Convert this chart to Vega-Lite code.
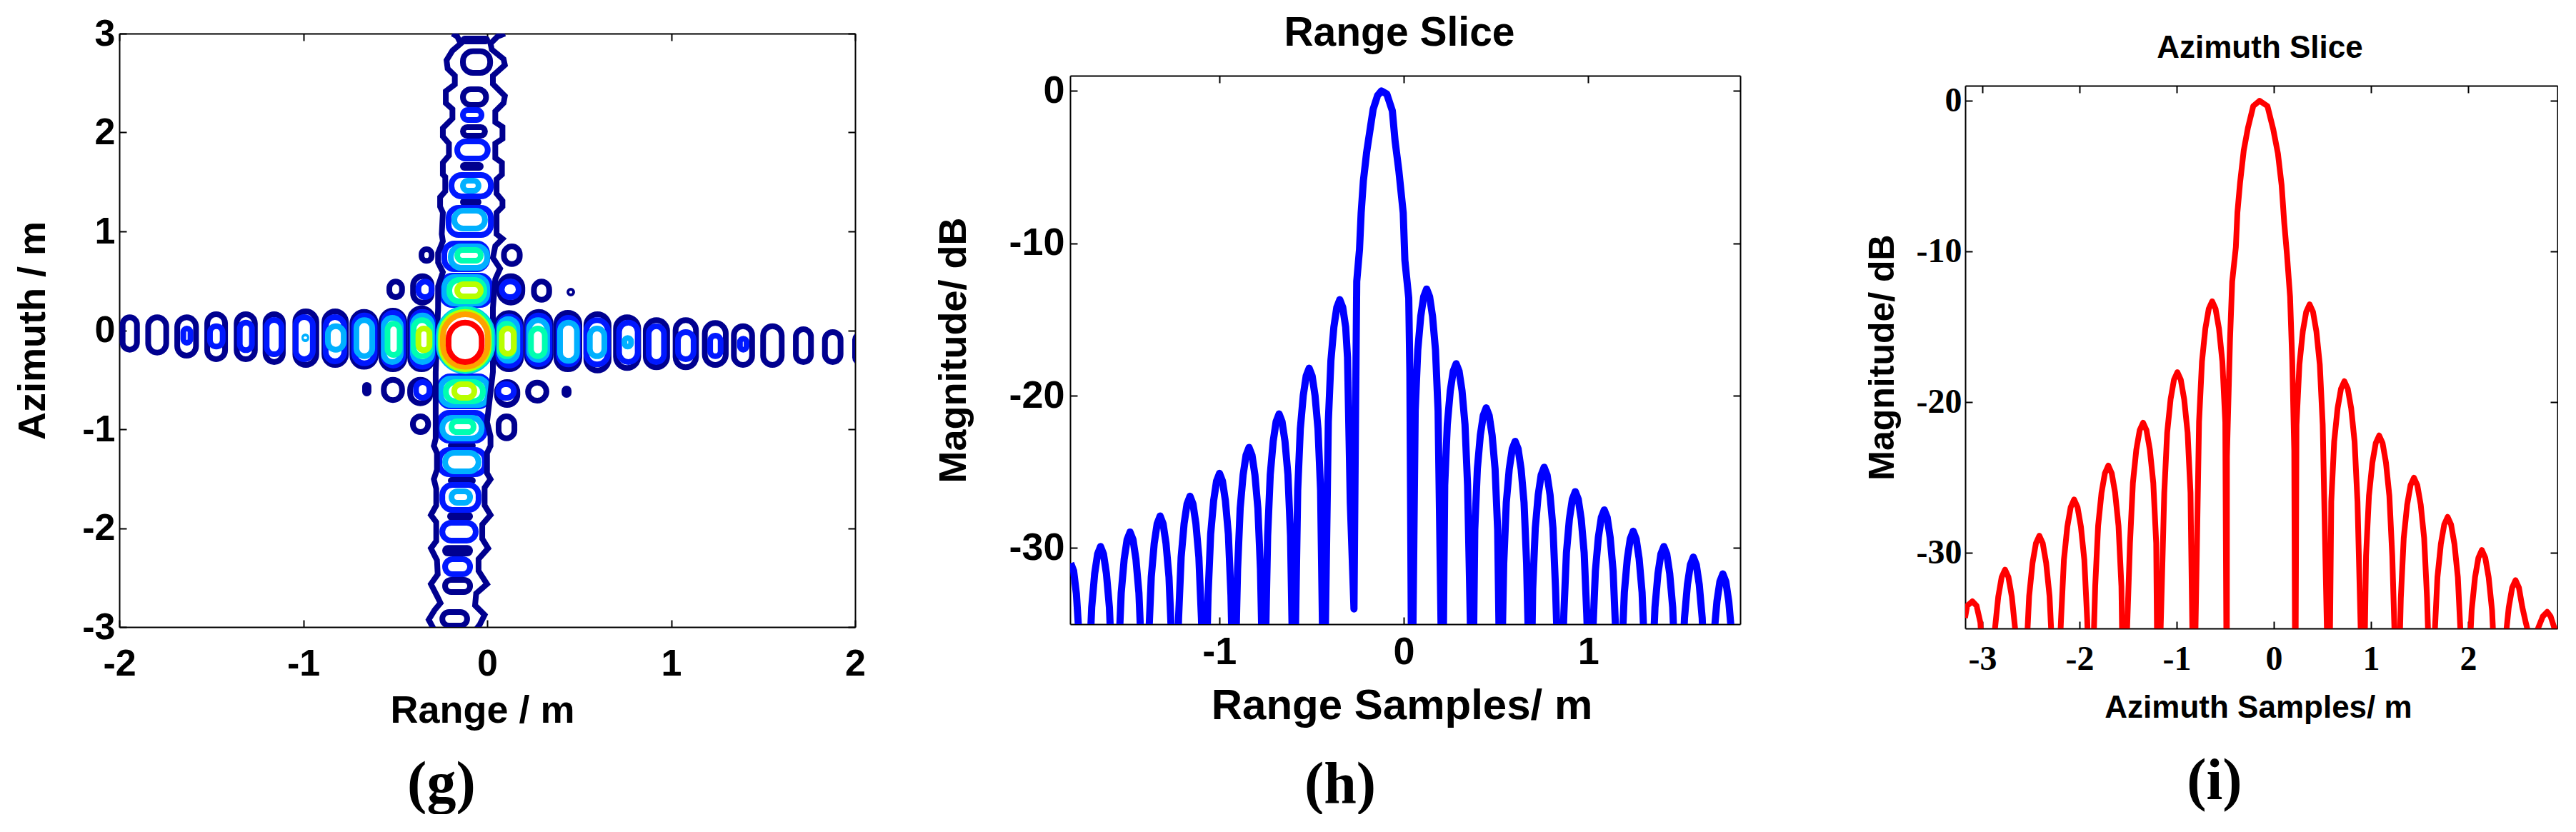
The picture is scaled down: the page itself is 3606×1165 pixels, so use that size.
{"$schema":"https://vega.github.io/schema/vega-lite/v6.json","background":"white","padding":{"left":19,"top":18,"right":0,"bottom":0},"config":{"font":"Liberation Sans","view":{"stroke":null},"axis":{"grid":false,"domainColor":"black","domainWidth":2,"tickColor":"black","tickWidth":2,"tickSize":-10,"labelColor":"black","titleColor":"black","labelFontWeight":"bold","titleFontWeight":"bold","labelOverlap":false,"labelFlush":false,"labelBound":false,"zindex":1}},"datasets":{"rangeSlice":[{"x":-1.806,"y":-31},{"x":-1.79,"y":-31.5},{"x":-1.775,"y":-33},{"x":-1.762,"y":-35.5},{"x":-1.724,"y":-42},{"x":-1.706,"y":-37.9},{"x":-1.692,"y":-33.9},{"x":-1.676,"y":-31.7},{"x":-1.66,"y":-30.4},{"x":-1.644,"y":-29.9},{"x":-1.628,"y":-30.4},{"x":-1.612,"y":-31.7},{"x":-1.596,"y":-33.9},{"x":-1.582,"y":-37.9},{"x":-1.564,"y":-42},{"x":-1.546,"y":-36.95},{"x":-1.532,"y":-32.95},{"x":-1.516,"y":-30.75},{"x":-1.5,"y":-29.45},{"x":-1.484,"y":-28.95},{"x":-1.468,"y":-29.45},{"x":-1.452,"y":-30.75},{"x":-1.436,"y":-32.95},{"x":-1.422,"y":-36.95},{"x":-1.404,"y":-42},{"x":-1.383,"y":-35.9},{"x":-1.369,"y":-31.9},{"x":-1.353,"y":-29.7},{"x":-1.337,"y":-28.4},{"x":-1.321,"y":-27.9},{"x":-1.305,"y":-28.4},{"x":-1.289,"y":-29.7},{"x":-1.273,"y":-31.9},{"x":-1.259,"y":-35.9},{"x":-1.239,"y":-42},{"x":-1.221,"y":-34.6},{"x":-1.207,"y":-30.6},{"x":-1.191,"y":-28.4},{"x":-1.175,"y":-27.1},{"x":-1.159,"y":-26.6},{"x":-1.143,"y":-27.1},{"x":-1.127,"y":-28.4},{"x":-1.111,"y":-30.6},{"x":-1.097,"y":-34.6},{"x":-1.079,"y":-42},{"x":-1.061,"y":-33.1},{"x":-1.047,"y":-29.1},{"x":-1.031,"y":-26.9},{"x":-1.015,"y":-25.6},{"x":-0.999,"y":-25.1},{"x":-0.983,"y":-25.6},{"x":-0.967,"y":-26.9},{"x":-0.951,"y":-29.1},{"x":-0.937,"y":-33.1},{"x":-0.921,"y":-42},{"x":-0.901,"y":-31.4},{"x":-0.887,"y":-27.4},{"x":-0.871,"y":-25.2},{"x":-0.855,"y":-23.9},{"x":-0.839,"y":-23.4},{"x":-0.823,"y":-23.9},{"x":-0.807,"y":-25.2},{"x":-0.791,"y":-27.4},{"x":-0.777,"y":-31.4},{"x":-0.759,"y":-42},{"x":-0.738,"y":-29.2},{"x":-0.724,"y":-25.2},{"x":-0.708,"y":-23},{"x":-0.692,"y":-21.7},{"x":-0.676,"y":-21.2},{"x":-0.66,"y":-21.7},{"x":-0.644,"y":-23},{"x":-0.628,"y":-25.2},{"x":-0.614,"y":-29.2},{"x":-0.596,"y":-42},{"x":-0.575,"y":-26.2},{"x":-0.561,"y":-22.2},{"x":-0.545,"y":-20},{"x":-0.529,"y":-18.7},{"x":-0.513,"y":-18.2},{"x":-0.497,"y":-18.7},{"x":-0.481,"y":-20},{"x":-0.465,"y":-22.2},{"x":-0.451,"y":-26.2},{"x":-0.433,"y":-42},{"x":-0.409,"y":-21.7},{"x":-0.395,"y":-17.7},{"x":-0.379,"y":-15.5},{"x":-0.363,"y":-14.2},{"x":-0.347,"y":-13.7},{"x":-0.331,"y":-14.2},{"x":-0.315,"y":-15.5},{"x":-0.305,"y":-17.5},{"x":-0.29,"y":-27},{"x":-0.27,"y":-34},{"x":-0.262,"y":-22},{"x":-0.255,"y":-12.5},{"x":-0.24,"y":-10.4},{"x":-0.231,"y":-8},{"x":-0.219,"y":-5.9},{"x":-0.201,"y":-4},{"x":-0.181,"y":-2.4},{"x":-0.166,"y":-1.2},{"x":-0.142,"y":-0.3},{"x":-0.121,"y":0},{"x":-0.092,"y":-0.2},{"x":-0.062,"y":-1.3},{"x":-0.047,"y":-3.3},{"x":-0.027,"y":-5.2},{"x":-0.003,"y":-8},{"x":0.006,"y":-11.1},{"x":0.027,"y":-13.6},{"x":0.033,"y":-18.5},{"x":0.044,"y":-42},{"x":0.062,"y":-21},{"x":0.076,"y":-17},{"x":0.092,"y":-14.8},{"x":0.108,"y":-13.5},{"x":0.124,"y":-13},{"x":0.14,"y":-13.5},{"x":0.156,"y":-14.8},{"x":0.172,"y":-17},{"x":0.186,"y":-21},{"x":0.21,"y":-42},{"x":0.222,"y":-25.9},{"x":0.236,"y":-21.9},{"x":0.252,"y":-19.7},{"x":0.268,"y":-18.4},{"x":0.284,"y":-17.9},{"x":0.3,"y":-18.4},{"x":0.316,"y":-19.7},{"x":0.332,"y":-21.9},{"x":0.346,"y":-25.9},{"x":0.373,"y":-42},{"x":0.385,"y":-28.8},{"x":0.399,"y":-24.8},{"x":0.415,"y":-22.6},{"x":0.431,"y":-21.3},{"x":0.447,"y":-20.8},{"x":0.463,"y":-21.3},{"x":0.479,"y":-22.6},{"x":0.495,"y":-24.8},{"x":0.509,"y":-28.8},{"x":0.524,"y":-42},{"x":0.542,"y":-31},{"x":0.556,"y":-27},{"x":0.572,"y":-24.8},{"x":0.588,"y":-23.5},{"x":0.604,"y":-23},{"x":0.62,"y":-23.5},{"x":0.636,"y":-24.8},{"x":0.652,"y":-27},{"x":0.666,"y":-31},{"x":0.687,"y":-42},{"x":0.699,"y":-32.7},{"x":0.713,"y":-28.7},{"x":0.729,"y":-26.5},{"x":0.745,"y":-25.2},{"x":0.761,"y":-24.7},{"x":0.777,"y":-25.2},{"x":0.793,"y":-26.5},{"x":0.809,"y":-28.7},{"x":0.823,"y":-32.7},{"x":0.847,"y":-42},{"x":0.868,"y":-34.3},{"x":0.882,"y":-30.3},{"x":0.898,"y":-28.1},{"x":0.914,"y":-26.8},{"x":0.93,"y":-26.3},{"x":0.946,"y":-26.8},{"x":0.962,"y":-28.1},{"x":0.978,"y":-30.3},{"x":0.992,"y":-34.3},{"x":1.013,"y":-42},{"x":1.025,"y":-35.5},{"x":1.039,"y":-31.5},{"x":1.055,"y":-29.3},{"x":1.071,"y":-28},{"x":1.087,"y":-27.5},{"x":1.103,"y":-28},{"x":1.119,"y":-29.3},{"x":1.135,"y":-31.5},{"x":1.149,"y":-35.5},{"x":1.167,"y":-42},{"x":1.182,"y":-36.9},{"x":1.196,"y":-32.9},{"x":1.212,"y":-30.7},{"x":1.228,"y":-29.4},{"x":1.244,"y":-28.9},{"x":1.26,"y":-29.4},{"x":1.276,"y":-30.7},{"x":1.292,"y":-32.9},{"x":1.306,"y":-36.9},{"x":1.33,"y":-42},{"x":1.348,"y":-37.9},{"x":1.362,"y":-33.9},{"x":1.378,"y":-31.7},{"x":1.394,"y":-30.4},{"x":1.41,"y":-29.9},{"x":1.426,"y":-30.4},{"x":1.442,"y":-31.7},{"x":1.458,"y":-33.9},{"x":1.472,"y":-37.9},{"x":1.487,"y":-42},{"x":1.508,"y":-38.6},{"x":1.522,"y":-34.6},{"x":1.538,"y":-32.4},{"x":1.554,"y":-31.1},{"x":1.57,"y":-30.6},{"x":1.586,"y":-31.1},{"x":1.602,"y":-32.4},{"x":1.618,"y":-34.6},{"x":1.632,"y":-38.6},{"x":1.641,"y":-42},{"x":1.668,"y":-39.7},{"x":1.682,"y":-35.7},{"x":1.698,"y":-33.5},{"x":1.714,"y":-32.2},{"x":1.73,"y":-31.7},{"x":1.746,"y":-32.2},{"x":1.762,"y":-33.5},{"x":1.778,"y":-35.7},{"x":1.792,"y":-39.7}],"azimuthSlice":[{"x":-3.178,"y":-34.3},{"x":-3.156,"y":-33.5},{"x":-3.102,"y":-33.2},{"x":-3.059,"y":-33.5},{"x":-3.02,"y":-34.6},{"x":-2.95,"y":-42},{"x":-2.901,"y":-39.1},{"x":-2.871,"y":-35.1},{"x":-2.836,"y":-32.9},{"x":-2.801,"y":-31.6},{"x":-2.766,"y":-31.1},{"x":-2.731,"y":-31.6},{"x":-2.696,"y":-32.9},{"x":-2.661,"y":-35.1},{"x":-2.631,"y":-39.1},{"x":-2.598,"y":-42},{"x":-2.548,"y":-36.85},{"x":-2.518,"y":-32.85},{"x":-2.483,"y":-30.65},{"x":-2.448,"y":-29.35},{"x":-2.413,"y":-28.85},{"x":-2.378,"y":-29.35},{"x":-2.343,"y":-30.65},{"x":-2.308,"y":-32.85},{"x":-2.278,"y":-36.85},{"x":-2.24,"y":-42},{"x":-2.19,"y":-34.45},{"x":-2.16,"y":-30.45},{"x":-2.125,"y":-28.25},{"x":-2.09,"y":-26.95},{"x":-2.055,"y":-26.45},{"x":-2.02,"y":-26.95},{"x":-1.985,"y":-28.25},{"x":-1.95,"y":-30.45},{"x":-1.92,"y":-34.45},{"x":-1.882,"y":-42},{"x":-1.838,"y":-32.2},{"x":-1.808,"y":-28.2},{"x":-1.773,"y":-26},{"x":-1.738,"y":-24.7},{"x":-1.703,"y":-24.2},{"x":-1.668,"y":-24.7},{"x":-1.633,"y":-26},{"x":-1.598,"y":-28.2},{"x":-1.568,"y":-32.2},{"x":-1.546,"y":-42},{"x":-1.48,"y":-29.35},{"x":-1.45,"y":-25.35},{"x":-1.415,"y":-23.15},{"x":-1.38,"y":-21.85},{"x":-1.345,"y":-21.35},{"x":-1.31,"y":-21.85},{"x":-1.275,"y":-23.15},{"x":-1.24,"y":-25.35},{"x":-1.21,"y":-29.35},{"x":-1.193,"y":-42},{"x":-1.127,"y":-26},{"x":-1.097,"y":-22},{"x":-1.062,"y":-19.8},{"x":-1.027,"y":-18.5},{"x":-0.992,"y":-18},{"x":-0.957,"y":-18.5},{"x":-0.922,"y":-19.8},{"x":-0.887,"y":-22},{"x":-0.857,"y":-26},{"x":-0.824,"y":-42},{"x":-0.769,"y":-21.3},{"x":-0.739,"y":-17.3},{"x":-0.704,"y":-15.1},{"x":-0.669,"y":-13.8},{"x":-0.634,"y":-13.3},{"x":-0.599,"y":-13.8},{"x":-0.564,"y":-15.1},{"x":-0.529,"y":-17.3},{"x":-0.499,"y":-21.3},{"x":-0.483,"y":-42},{"x":-0.482,"y":-23.6},{"x":-0.45,"y":-15.8},{"x":-0.428,"y":-12},{"x":-0.39,"y":-9.7},{"x":-0.374,"y":-7.4},{"x":-0.347,"y":-5.45},{"x":-0.309,"y":-3.3},{"x":-0.266,"y":-1.8},{"x":-0.211,"y":-0.35},{"x":-0.146,"y":0},{"x":-0.065,"y":-0.35},{"x":-0.005,"y":-1.9},{"x":0.043,"y":-3.5},{"x":0.081,"y":-5.6},{"x":0.108,"y":-8.1},{"x":0.136,"y":-10.2},{"x":0.168,"y":-13},{"x":0.19,"y":-17.2},{"x":0.211,"y":-23.2},{"x":0.222,"y":-42},{"x":0.234,"y":-21.5},{"x":0.264,"y":-17.5},{"x":0.299,"y":-15.3},{"x":0.334,"y":-14},{"x":0.369,"y":-13.5},{"x":0.404,"y":-14},{"x":0.439,"y":-15.3},{"x":0.474,"y":-17.5},{"x":0.504,"y":-21.5},{"x":0.569,"y":-42},{"x":0.592,"y":-26.6},{"x":0.622,"y":-22.6},{"x":0.657,"y":-20.4},{"x":0.692,"y":-19.1},{"x":0.727,"y":-18.6},{"x":0.762,"y":-19.1},{"x":0.797,"y":-20.4},{"x":0.832,"y":-22.6},{"x":0.862,"y":-26.6},{"x":0.922,"y":-42},{"x":0.95,"y":-30.2},{"x":0.98,"y":-26.2},{"x":1.015,"y":-24},{"x":1.05,"y":-22.7},{"x":1.085,"y":-22.2},{"x":1.12,"y":-22.7},{"x":1.155,"y":-24},{"x":1.19,"y":-26.2},{"x":1.22,"y":-30.2},{"x":1.274,"y":-42},{"x":1.308,"y":-33},{"x":1.338,"y":-29},{"x":1.373,"y":-26.8},{"x":1.408,"y":-25.5},{"x":1.443,"y":-25},{"x":1.478,"y":-25.5},{"x":1.513,"y":-26.8},{"x":1.548,"y":-29},{"x":1.578,"y":-33},{"x":1.621,"y":-42},{"x":1.655,"y":-35.6},{"x":1.685,"y":-31.6},{"x":1.72,"y":-29.4},{"x":1.755,"y":-28.1},{"x":1.79,"y":-27.6},{"x":1.825,"y":-28.1},{"x":1.86,"y":-29.4},{"x":1.895,"y":-31.6},{"x":1.925,"y":-35.6},{"x":1.969,"y":-42},{"x":2.007,"y":-37.8},{"x":2.037,"y":-33.8},{"x":2.072,"y":-31.6},{"x":2.107,"y":-30.3},{"x":2.142,"y":-29.8},{"x":2.177,"y":-30.3},{"x":2.212,"y":-31.6},{"x":2.247,"y":-33.8},{"x":2.277,"y":-37.8},{"x":2.326,"y":-42},{"x":2.354,"y":-39.8},{"x":2.384,"y":-35.8},{"x":2.419,"y":-33.6},{"x":2.454,"y":-32.3},{"x":2.489,"y":-31.8},{"x":2.524,"y":-32.3},{"x":2.559,"y":-33.6},{"x":2.594,"y":-34.6},{"x":2.64,"y":-35.8},{"x":2.674,"y":-36},{"x":2.72,"y":-35},{"x":2.77,"y":-34.2},{"x":2.815,"y":-33.9},{"x":2.85,"y":-34.2},{"x":2.89,"y":-35},{"x":2.93,"y":-36}],"contourV":[{"x0":-0.13,"x1":0,"y0":2.95,"y1":2.92,"level":1},{"x0":-0.132,"x1":0.016,"y0":2.822,"y1":2.603,"level":1},{"x0":-0.132,"x1":-0.006,"y0":2.437,"y1":2.278,"level":1},{"x0":-0.132,"x1":-0.031,"y0":2.227,"y1":2.126,"level":2},{"x0":-0.132,"x1":-0.012,"y0":2.054,"y1":1.967,"level":1},{"x0":-0.163,"x1":0.003,"y0":1.91,"y1":1.736,"level":2},{"x0":-0.132,"x1":-0.035,"y0":1.671,"y1":1.643,"level":1},{"x0":-0.194,"x1":0.02,"y0":1.57,"y1":1.354,"level":2},{"x0":-0.132,"x1":-0.047,"y0":1.512,"y1":1.411,"level":3},{"x0":-0.132,"x1":-0.047,"y0":1.31,"y1":1.282,"level":1},{"x0":-0.21,"x1":0.02,"y0":1.238,"y1":0.964,"level":2},{"x0":-0.179,"x1":-0.012,"y0":1.209,"y1":1.029,"level":3},{"x0":-0.233,"x1":0,"y0":0.877,"y1":0.617,"level":2},{"x0":-0.198,"x1":0,"y0":0.848,"y1":0.632,"level":3},{"x0":-0.163,"x1":-0.035,"y0":0.812,"y1":0.704,"level":4},{"x0":-0.245,"x1":0.016,"y0":0.552,"y1":0.256,"level":2},{"x0":-0.233,"x1":0,"y0":0.538,"y1":0.271,"level":3},{"x0":-0.206,"x1":-0.016,"y0":0.509,"y1":0.292,"level":4},{"x0":-0.163,"x1":-0.035,"y0":0.466,"y1":0.343,"level":5},{"x0":-0.256,"x1":0.008,"y0":-0.466,"y1":-0.769,"level":2},{"x0":-0.252,"x1":0.004,"y0":-0.487,"y1":-0.755,"level":3},{"x0":-0.225,"x1":-0.023,"y0":-0.523,"y1":-0.718,"level":4},{"x0":-0.179,"x1":-0.07,"y0":-0.545,"y1":-0.682,"level":5},{"x0":-0.26,"x1":-0.012,"y0":-0.834,"y1":-1.116,"level":2},{"x0":-0.244,"x1":-0.03,"y0":-0.884,"y1":-1.094,"level":3},{"x0":-0.194,"x1":-0.074,"y0":-0.92,"y1":-1.029,"level":4},{"x0":-0.198,"x1":-0.078,"y0":-1.159,"y1":-1.174,"level":1},{"x0":-0.26,"x1":-0.012,"y0":-1.21,"y1":-1.455,"level":2},{"x0":-0.229,"x1":-0.047,"y0":-1.238,"y1":-1.426,"level":3},{"x0":-0.198,"x1":-0.078,"y0":-1.513,"y1":-1.527,"level":1},{"x0":-0.244,"x1":-0.047,"y0":-1.563,"y1":-1.816,"level":2},{"x0":-0.194,"x1":-0.093,"y0":-1.628,"y1":-1.744,"level":3},{"x0":-0.202,"x1":-0.093,"y0":-1.867,"y1":-1.895,"level":1},{"x0":-0.244,"x1":-0.062,"y0":-1.945,"y1":-2.126,"level":2},{"x0":-0.229,"x1":-0.093,"y0":-2.2,"y1":-2.256,"level":1},{"x0":-0.229,"x1":-0.093,"y0":-2.314,"y1":-2.466,"level":2},{"x0":-0.229,"x1":-0.093,"y0":-2.523,"y1":-2.646,"level":1},{"x0":-0.244,"x1":-0.109,"y0":-2.848,"y1":-2.986,"level":1}],"envelope":[{"side":"L","x":-0.189,"y":3},{"side":"L","x":-0.163,"y":2.971},{"side":"L","x":-0.144,"y":2.899},{"side":"L","x":-0.189,"y":2.827},{"side":"L","x":-0.221,"y":2.73},{"side":"L","x":-0.215,"y":2.646},{"side":"L","x":-0.176,"y":2.574},{"side":"L","x":-0.176,"y":2.485},{"side":"L","x":-0.225,"y":2.417},{"side":"L","x":-0.225,"y":2.297},{"side":"L","x":-0.189,"y":2.237},{"side":"L","x":-0.189,"y":2.141},{"side":"L","x":-0.241,"y":2.044},{"side":"L","x":-0.241,"y":1.96},{"side":"L","x":-0.208,"y":1.888},{"side":"L","x":-0.208,"y":1.767},{"side":"L","x":-0.241,"y":1.695},{"side":"L","x":-0.241,"y":1.575},{"side":"L","x":-0.228,"y":1.551},{"side":"L","x":-0.228,"y":1.406},{"side":"L","x":-0.256,"y":1.346},{"side":"L","x":-0.256,"y":1.25},{"side":"L","x":-0.241,"y":1.19},{"side":"L","x":-0.247,"y":0.973},{"side":"L","x":-0.241,"y":0.901},{"side":"L","x":-0.267,"y":0.781},{"side":"L","x":-0.267,"y":0.685},{"side":"L","x":-0.241,"y":0.588},{"side":"L","x":-0.267,"y":0.444},{"side":"L","x":-0.267,"y":0.227},{"side":"L","x":-0.28,"y":-0.423},{"side":"L","x":-0.28,"y":-1.096},{"side":"L","x":-0.29,"y":-1.169},{"side":"L","x":-0.273,"y":-1.241},{"side":"L","x":-0.273,"y":-1.409},{"side":"L","x":-0.29,"y":-1.505},{"side":"L","x":-0.277,"y":-1.602},{"side":"L","x":-0.277,"y":-1.77},{"side":"L","x":-0.306,"y":-1.867},{"side":"L","x":-0.277,"y":-1.939},{"side":"L","x":-0.277,"y":-2.131},{"side":"L","x":-0.306,"y":-2.204},{"side":"L","x":-0.273,"y":-2.324},{"side":"L","x":-0.269,"y":-2.468},{"side":"L","x":-0.306,"y":-2.565},{"side":"L","x":-0.273,"y":-2.685},{"side":"L","x":-0.254,"y":-2.757},{"side":"L","x":-0.286,"y":-2.829},{"side":"L","x":-0.318,"y":-2.926},{"side":"L","x":-0.29,"y":-3.022},{"side":"R","x":0.096,"y":3},{"side":"R","x":0.057,"y":2.971},{"side":"R","x":0.018,"y":2.899},{"side":"R","x":0.025,"y":2.839},{"side":"R","x":0.089,"y":2.742},{"side":"R","x":0.096,"y":2.682},{"side":"R","x":0.031,"y":2.574},{"side":"R","x":0.031,"y":2.49},{"side":"R","x":0.096,"y":2.369},{"side":"R","x":0.089,"y":2.297},{"side":"R","x":0.044,"y":2.213},{"side":"R","x":0.044,"y":2.104},{"side":"R","x":0.083,"y":2.056},{"side":"R","x":0.083,"y":1.936},{"side":"R","x":0.044,"y":1.888},{"side":"R","x":0.044,"y":1.743},{"side":"R","x":0.08,"y":1.695},{"side":"R","x":0.08,"y":1.575},{"side":"R","x":0.051,"y":1.527},{"side":"R","x":0.051,"y":1.382},{"side":"R","x":0.083,"y":1.31},{"side":"R","x":0.083,"y":1.25},{"side":"R","x":0.051,"y":1.19},{"side":"R","x":0.051,"y":0.973},{"side":"R","x":0.083,"y":0.925},{"side":"R","x":0.044,"y":0.853},{"side":"R","x":0.031,"y":0.733},{"side":"R","x":0.07,"y":0.624},{"side":"R","x":0.044,"y":0.516},{"side":"R","x":0.031,"y":0.227},{"side":"R","x":0.031,"y":-0.423},{"side":"R","x":-0.001,"y":-0.928},{"side":"R","x":0.018,"y":-1.072},{"side":"R","x":0.018,"y":-1.169},{"side":"R","x":-0.001,"y":-1.241},{"side":"R","x":-0.001,"y":-1.445},{"side":"R","x":0.018,"y":-1.505},{"side":"R","x":-0.014,"y":-1.59},{"side":"R","x":-0.014,"y":-1.77},{"side":"R","x":0.018,"y":-1.867},{"side":"R","x":-0.027,"y":-1.963},{"side":"R","x":-0.027,"y":-2.107},{"side":"R","x":0.005,"y":-2.204},{"side":"R","x":-0.047,"y":-2.312},{"side":"R","x":-0.047,"y":-2.432},{"side":"R","x":-0.001,"y":-2.565},{"side":"R","x":-0.06,"y":-2.661},{"side":"R","x":-0.066,"y":-2.781},{"side":"R","x":-0.014,"y":-2.878},{"side":"R","x":-0.04,"y":-2.974},{"side":"R","x":-0.06,"y":-3.022}],"contourH":[{"x0":-1.982,"x1":-1.904,"y0":0.131,"y1":-0.196,"level":1},{"x0":-1.843,"x1":-1.745,"y0":0.131,"y1":-0.225,"level":1},{"x0":-1.685,"x1":-1.583,"y0":0.131,"y1":-0.256,"level":1},{"x0":-1.652,"x1":-1.613,"y0":0.018,"y1":-0.126,"level":2},{"x0":-1.522,"x1":-1.425,"y0":0.162,"y1":-0.292,"level":1},{"x0":-1.507,"x1":-1.438,"y0":0.042,"y1":-0.165,"level":2},{"x0":-1.362,"x1":-1.263,"y0":0.162,"y1":-0.292,"level":1},{"x0":-1.345,"x1":-1.279,"y0":0.078,"y1":-0.201,"level":2},{"x0":-1.205,"x1":-1.111,"y0":0.162,"y1":-0.321,"level":1},{"x0":-1.199,"x1":-1.118,"y0":0.105,"y1":-0.242,"level":2},{"x0":-1.043,"x1":-0.929,"y0":0.191,"y1":-0.35,"level":1},{"x0":-1.041,"x1":-0.948,"y0":0.134,"y1":-0.292,"level":2},{"x0":-0.994,"x1":-0.983,"y0":-0.061,"y1":-0.09,"level":3},{"x0":-0.885,"x1":-0.768,"y0":0.191,"y1":-0.35,"level":1},{"x0":-0.878,"x1":-0.777,"y0":0.134,"y1":-0.314,"level":2},{"x0":-0.866,"x1":-0.78,"y0":0.042,"y1":-0.196,"level":3},{"x0":-0.733,"x1":-0.606,"y0":0.186,"y1":-0.369,"level":1},{"x0":-0.723,"x1":-0.612,"y0":0.15,"y1":-0.334,"level":2},{"x0":-0.711,"x1":-0.625,"y0":0.102,"y1":-0.262,"level":3},{"x0":-0.575,"x1":-0.45,"y0":0.198,"y1":-0.394,"level":1},{"x0":-0.563,"x1":-0.458,"y0":0.177,"y1":-0.357,"level":2},{"x0":-0.562,"x1":-0.47,"y0":0.126,"y1":-0.321,"level":3},{"x0":-0.542,"x1":-0.476,"y0":0.066,"y1":-0.249,"level":4},{"x0":-0.419,"x1":-0.295,"y0":0.222,"y1":-0.394,"level":1},{"x0":-0.408,"x1":-0.295,"y0":0.186,"y1":-0.369,"level":2},{"x0":-0.404,"x1":-0.299,"y0":0.15,"y1":-0.321,"level":3},{"x0":-0.4,"x1":-0.308,"y0":0.102,"y1":-0.262,"level":4},{"x0":-0.374,"x1":-0.314,"y0":0.018,"y1":-0.201,"level":5},{"x0":-0.265,"x1":0.03,"y0":0.22,"y1":-0.415,"level":3},{"x0":-0.257,"x1":0.022,"y0":0.213,"y1":-0.406,"level":4},{"x0":-0.251,"x1":0.009,"y0":0.186,"y1":-0.394,"level":5},{"x0":-0.241,"x1":0.003,"y0":0.162,"y1":-0.369,"level":6},{"x0":-0.21,"x1":-0.03,"y0":0.078,"y1":-0.321,"level":7},{"x0":0.053,"x1":0.184,"y0":0.175,"y1":-0.394,"level":1},{"x0":0.06,"x1":0.179,"y0":0.139,"y1":-0.357,"level":2},{"x0":0.066,"x1":0.164,"y0":0.114,"y1":-0.309,"level":3},{"x0":0.066,"x1":0.145,"y0":0.066,"y1":-0.262,"level":4},{"x0":0.079,"x1":0.145,"y0":0.018,"y1":-0.237,"level":5},{"x0":0.215,"x1":0.345,"y0":0.186,"y1":-0.369,"level":1},{"x0":0.222,"x1":0.339,"y0":0.15,"y1":-0.343,"level":2},{"x0":0.228,"x1":0.326,"y0":0.102,"y1":-0.298,"level":3},{"x0":0.238,"x1":0.313,"y0":0.018,"y1":-0.262,"level":4},{"x0":0.376,"x1":0.501,"y0":0.177,"y1":-0.394,"level":1},{"x0":0.389,"x1":0.494,"y0":0.126,"y1":-0.345,"level":2},{"x0":0.396,"x1":0.488,"y0":0.078,"y1":-0.309,"level":3},{"x0":0.539,"x1":0.66,"y0":0.162,"y1":-0.406,"level":1},{"x0":0.539,"x1":0.656,"y0":0.102,"y1":-0.345,"level":2},{"x0":0.558,"x1":0.637,"y0":0.018,"y1":-0.262,"level":3},{"x0":0.7,"x1":0.821,"y0":0.131,"y1":-0.381,"level":1},{"x0":0.717,"x1":0.818,"y0":0.078,"y1":-0.321,"level":2},{"x0":0.746,"x1":0.782,"y0":-0.078,"y1":-0.165,"level":3},{"x0":0.862,"x1":0.978,"y0":0.102,"y1":-0.374,"level":1},{"x0":0.878,"x1":0.961,"y0":0.042,"y1":-0.321,"level":2},{"x0":1.024,"x1":1.135,"y0":0.102,"y1":-0.374,"level":1},{"x0":1.037,"x1":1.122,"y0":-0.018,"y1":-0.292,"level":2},{"x0":1.183,"x1":1.297,"y0":0.074,"y1":-0.35,"level":1},{"x0":1.212,"x1":1.269,"y0":-0.054,"y1":-0.262,"level":2},{"x0":1.341,"x1":1.44,"y0":0.042,"y1":-0.35,"level":1},{"x0":1.374,"x1":1.41,"y0":-0.085,"y1":-0.196,"level":2},{"x0":1.5,"x1":1.601,"y0":0.042,"y1":-0.35,"level":1},{"x0":1.678,"x1":1.76,"y0":0.011,"y1":-0.321,"level":1},{"x0":1.836,"x1":1.921,"y0":-0.018,"y1":-0.321,"level":1},{"x0":2,"x1":2.05,"y0":-0.047,"y1":-0.321,"level":1},{"x0":-0.357,"x1":-0.302,"y0":0.819,"y1":0.702,"level":1},{"x0":0.091,"x1":0.177,"y0":0.848,"y1":0.67,"level":1},{"x0":-0.532,"x1":-0.463,"y0":0.492,"y1":0.336,"level":1},{"x0":-0.403,"x1":-0.302,"y0":0.547,"y1":0.28,"level":1},{"x0":-0.374,"x1":-0.302,"y0":0.492,"y1":0.336,"level":2},{"x0":0.066,"x1":0.191,"y0":0.547,"y1":0.28,"level":1},{"x0":0.079,"x1":0.171,"y0":0.492,"y1":0.336,"level":2},{"x0":0.254,"x1":0.337,"y0":0.492,"y1":0.309,"level":1},{"x0":0.447,"x1":0.462,"y0":0.401,"y1":0.372,"level":1},{"x0":-0.664,"x1":-0.645,"y0":-0.552,"y1":-0.639,"level":1},{"x0":-0.562,"x1":-0.463,"y0":-0.5,"y1":-0.706,"level":1},{"x0":-0.419,"x1":-0.308,"y0":-0.5,"y1":-0.738,"level":1},{"x0":-0.387,"x1":-0.314,"y0":-0.523,"y1":-0.682,"level":2},{"x0":0.053,"x1":0.164,"y0":-0.523,"y1":-0.755,"level":1},{"x0":0.06,"x1":0.145,"y0":-0.545,"y1":-0.682,"level":2},{"x0":0.222,"x1":0.322,"y0":-0.529,"y1":-0.711,"level":1},{"x0":0.42,"x1":0.443,"y0":-0.588,"y1":-0.653,"level":1},{"x0":-0.404,"x1":-0.321,"y0":-0.87,"y1":-1.029,"level":1},{"x0":0.062,"x1":0.148,"y0":-0.87,"y1":-1.092,"level":1}]},"hconcat":[{"width":1030,"height":831,"layer":[{"data":{"name":"contourV"},"mark":{"type":"rect","filled":false,"strokeWidth":8,"cornerRadius":14,"clip":true},"encoding":{"x":{"field":"x0","type":"quantitative","scale":{"domain":[-2,2],"nice":false,"zero":false},"axis":{"orient":"bottom","values":[-2,-1,0,1,2],"labelExpr":"''+datum.value","labelFontSize":52,"labelPadding":36,"title":"Range / m","titleFontSize":54,"titlePadding":13,"titleX":508}},"x2":{"field":"x1"},"y":{"field":"y0","type":"quantitative","scale":{"domain":[-3,3],"nice":false,"zero":false},"axis":{"orient":"left","values":[-3,-2,-1,0,1,2,3],"labelExpr":"''+datum.value","labelFontSize":52,"labelPadding":16,"title":"Azimuth / m","titleFontSize":54,"titlePadding":41}},"y2":{"field":"y1"},"color":{"field":"level","type":"ordinal","scale":{"domain":[1,2,3,4,5,6,7],"range":["#00008f","#0018ff","#00b0ff","#00ffb0","#b8ff00","#ffa000","#ff0000"]},"legend":null},"order":{"field":"level"}}},{"data":{"name":"envelope"},"mark":{"type":"line","color":"#00008f","strokeWidth":8,"clip":true},"encoding":{"x":{"field":"x","type":"quantitative","axis":null,"scale":{"domain":[-2,2],"nice":false,"zero":false}},"y":{"field":"y","type":"quantitative","axis":null,"scale":{"domain":[-3,3],"nice":false,"zero":false}},"detail":{"field":"side"},"order":{"field":"y"}}},{"data":{"name":"contourH"},"mark":{"type":"rect","filled":false,"strokeWidth":8,"cornerRadius":60,"clip":true},"encoding":{"x":{"field":"x0","type":"quantitative","axis":null,"scale":{"domain":[-2,2],"nice":false,"zero":false}},"x2":{"field":"x1"},"y":{"field":"y0","type":"quantitative","axis":null,"scale":{"domain":[-3,3],"nice":false,"zero":false}},"y2":{"field":"y1"},"color":{"field":"level","type":"ordinal","scale":{"domain":[1,2,3,4,5,6,7],"range":["#00008f","#0018ff","#00b0ff","#00ffb0","#b8ff00","#ffa000","#ff0000"]},"legend":null},"order":{"field":"level"}}},{"data":{"values":[{"x":-0.249,"y":-4.769,"caption":"(g)"}]},"mark":{"type":"text","font":"Liberation Serif","fontWeight":"bold","fontSize":82,"color":"black","baseline":"alphabetic","align":"center"},"encoding":{"x":{"field":"x","type":"quantitative","scale":{"domain":[-2,2],"nice":false,"zero":false},"axis":{"orient":"top","values":[-2,-1,0,1,2],"labels":false,"title":null}},"y":{"field":"y","type":"quantitative","scale":{"domain":[-3,3],"nice":false,"zero":false},"axis":{"orient":"right","values":[-3,-2,-1,0,1,2,3],"labels":false,"title":null}},"text":{"field":"caption"}}}],"resolve":{"axis":{"x":"independent","y":"independent"}}},{"hconcat":[{"spacing":0,"vconcat":[{"width":938,"height":53,"data":{"values":[{"label":"Range Slice"}]},"mark":{"type":"text","font":"Liberation Sans","fontWeight":"bold","fontSize":57,"color":"black","baseline":"alphabetic","dy":-9.5,"dx":-8},"encoding":{"text":{"field":"label"}}},{"width":938,"height":768,"layer":[{"data":{"name":"rangeSlice"},"mark":{"type":"line","color":"#0000ff","strokeWidth":10,"strokeJoin":"round","clip":true},"encoding":{"x":{"field":"x","type":"quantitative","scale":{"domain":[-1.809,1.824],"nice":false,"zero":false},"axis":{"orient":"bottom","values":[-1,0,1],"labelExpr":"''+datum.value","labelFontSize":54,"labelPadding":22,"title":"Range Samples/ m","titleFontSize":60,"titlePadding":19,"titleX":464}},"y":{"field":"y","type":"quantitative","scale":{"domain":[-35,1],"nice":false,"zero":false},"axis":{"orient":"left","values":[-30,-20,-10,0],"labelExpr":"''+datum.value","labelFontSize":54,"labelPadding":18,"title":"Magnitude/ dB","titleFontSize":54,"titlePadding":49}},"order":{"field":"x"}}},{"data":{"values":[{"x":-0.345,"y":-46.7,"caption":"(h)"}]},"mark":{"type":"text","font":"Liberation Serif","fontWeight":"bold","fontSize":82,"color":"black","baseline":"alphabetic","align":"center"},"encoding":{"x":{"field":"x","type":"quantitative","scale":{"domain":[-1.809,1.824],"nice":false,"zero":false},"axis":{"orient":"top","values":[-1,0,1],"labels":false,"title":null}},"y":{"field":"y","type":"quantitative","scale":{"domain":[-35,1],"nice":false,"zero":false},"axis":{"orient":"right","values":[-30,-20,-10,0],"labels":false,"title":null}},"text":{"field":"caption"}}}],"resolve":{"axis":{"x":"independent","y":"independent"}}}]},{"spacing":0,"vconcat":[{"width":829,"height":70,"data":{"values":[{"label":"Azimuth Slice"}]},"mark":{"type":"text","font":"Liberation Sans","fontWeight":"bold","fontSize":44,"color":"black","baseline":"alphabetic","dy":-1,"dx":-2},"encoding":{"text":{"field":"label"}}},{"width":829,"height":760,"layer":[{"data":{"name":"azimuthSlice"},"mark":{"type":"line","color":"#ff0000","strokeWidth":8,"strokeJoin":"round","clip":true},"encoding":{"x":{"field":"x","type":"quantitative","scale":{"domain":[-3.176,2.92],"nice":false,"zero":false},"axis":{"orient":"bottom","values":[-3,-2,-1,0,1,2],"labelExpr":"''+datum.value","labelFont":"Liberation Sans Narrow","labelFontSize":48,"labelPadding":29,"title":"Azimuth Samples/ m","titleFontSize":44,"titlePadding":22,"titleX":410}},"y":{"field":"y","type":"quantitative","scale":{"domain":[-35,1],"nice":false,"zero":false},"axis":{"orient":"left","values":[-30,-20,-10,0],"labelExpr":"''+datum.value","labelFont":"Liberation Sans Narrow","labelFontSize":48,"labelPadding":15,"title":"Magnitude/ dB","titleFontSize":50,"titlePadding":22}},"order":{"field":"x"}}},{"data":{"values":[{"x":-0.61,"y":-46.3,"caption":"(i)"}]},"mark":{"type":"text","font":"Liberation Serif","fontWeight":"bold","fontSize":82,"color":"black","baseline":"alphabetic","align":"center"},"encoding":{"x":{"field":"x","type":"quantitative","scale":{"domain":[-3.176,2.92],"nice":false,"zero":false},"axis":{"orient":"top","values":[-3,-2,-1,0,1,2],"labels":false,"title":null}},"y":{"field":"y","type":"quantitative","scale":{"domain":[-35,1],"nice":false,"zero":false},"axis":{"orient":"right","values":[-30,-20,-10,0],"labels":false,"title":null}},"text":{"field":"caption"}}}],"resolve":{"axis":{"x":"independent","y":"independent"}}}]}],"spacing":173}],"spacing":96}
